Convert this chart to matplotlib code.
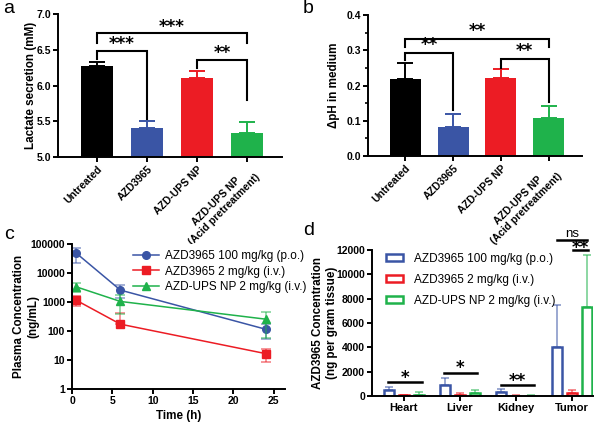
import matplotlib
matplotlib.use("Agg")
import matplotlib.pyplot as plt
import numpy as np
from matplotlib.patches import Patch
from matplotlib.ticker import FixedLocator, FixedFormatter, MultipleLocator

plt.rcParams['font.family'] = ['Liberation Sans', 'DejaVu Sans']
plt.rcParams['axes.linewidth'] = 1.4
plt.rcParams['xtick.major.width'] = 1.4
plt.rcParams['ytick.major.width'] = 1.4
plt.rcParams['ytick.minor.width'] = 1.2

# ---------------- data ----------------
groups_ab = ['Untreated', 'AZD3965', 'AZD-UPS NP', 'AZD-UPS NP\n(Acid pretreatment)']
lactate = [6.27, 5.40, 6.10, 5.33]
lactate_err = [0.06, 0.10, 0.10, 0.16]
dph = [0.218, 0.083, 0.222, 0.107]
dph_err = [0.047, 0.035, 0.024, 0.035]
bar_colors = ['#000000', '#3a55a5', '#ec1c24', '#1fb24b']

time_h = [0.5, 6, 24]
pk_series = ['AZD3965 100 mg/kg (p.o.)', 'AZD3965 2 mg/kg (i.v.)', 'AZD-UPS NP 2 mg/kg (i.v.)']
pk_po = [49000, 2570, 115]
pk_po_err = [26000, 1200, 60]
pk_iv = [1160, 172, 16.6]
pk_iv_err = [450, 230, 8]
pk_np = [3350, 1045, 256]
pk_np_err = [1100, 650, 200]

tissues = ['Heart', 'Liver', 'Kidney', 'Tumor']
tis_po = [470, 900, 330, 4000]
tis_po_err = [300, 600, 220, 3500]
tis_iv = [60, 120, 40, 250]
tis_iv_err = [40, 100, 30, 250]
tis_np = [120, 280, 40, 7300]
tis_np_err = [200, 220, 25, 4330]

W, H = 600, 430
fig = plt.figure(figsize=(6, 4.3), dpi=100)
TICK_FS = 7.5
LAB_FS = 8.4
STAR = dict(fontsize=12, fontweight='bold', family='DejaVu Sans')

def ax_px(l, t, r, b):
    return fig.add_axes([l / W, 1 - b / H, (r - l) / W, (b - t) / H])

def style(ax):
    for s in ['top', 'right']:
        ax.spines[s].set_visible(False)
    ax.tick_params(direction='out', length=3.5, labelsize=TICK_FS, pad=1.5)
    for lab in ax.get_xticklabels() + ax.get_yticklabels():
        lab.set_fontweight('bold')

def set_ylabel_px(ax, text, right_px, left_px, width_px):
    ax.set_ylabel(text, fontsize=LAB_FS, fontweight='bold')
    ax.yaxis.set_label_coords((right_px - left_px) / width_px, 0.5)

def bracket(ax, x1, x2, y, yl, yr, text, ty):
    ax.plot([x1, x1, x2, x2], [yl, y, y, yr], color='black', lw=1.5, clip_on=False,
            solid_joinstyle='miter')
    ax.text((x1 + x2) / 2, ty, text, ha='center', va='center', clip_on=False, **STAR)

def bar_panel(ax, vals, errs, ylim, yticks):
    x = np.arange(len(vals))
    bot = ylim[0]
    ax.bar(x, np.array(vals) - bot, bottom=bot, width=0.65, color=bar_colors, zorder=2)
    for xi, v, e, c in zip(x, vals, errs, bar_colors):
        ax.errorbar(xi, v, yerr=[[0], [e]], color=c, capsize=6, capthick=1.4,
                    elinewidth=1.4, zorder=1)
    ax.set_xlim(-0.78, 3.7)
    ax.set_ylim(*ylim)
    ax.set_yticks(yticks)
    ax.set_xticks(x)
    ax.set_xticklabels(groups_ab, rotation=45, ha='right', rotation_mode='anchor',
                       fontsize=TICK_FS, fontweight='bold', multialignment='center')
    style(ax)

# ---------------- panel a ----------------
axa = ax_px(58, 14, 282, 157)
bar_panel(axa, lactate, lactate_err, (5.0, 7.0), [5.0, 5.5, 6.0, 6.5, 7.0])
axa.set_yticklabels(['5.0', '5.5', '6.0', '6.5', '7.0'], fontweight='bold')
set_ylabel_px(axa, 'Lactate secretion (mM)', 37, 58, 224)
bracket(axa, 0, 3, 6.73, 6.59, 6.59, '***', 6.82)
bracket(axa, 0, 1, 6.48, 6.37, 5.53, '***', 6.575)
bracket(axa, 2, 3, 6.36, 6.24, 5.80, '**', 6.455)

# ---------------- panel b ----------------
axb = ax_px(368, 15, 582, 156)
bar_panel(axb, dph, dph_err, (0.0, 0.4), [0.0, 0.1, 0.2, 0.3, 0.4])
axb.set_yticklabels(['0.0', '0.1', '0.2', '0.3', '0.4'], fontweight='bold')
set_ylabel_px(axb, '\u0394pH in medium', 340, 368, 214)
axb.yaxis.set_minor_locator(MultipleLocator(0.05))
axb.tick_params(axis='y', which='minor', length=2.5)
bracket(axb, 0, 3, 0.332, 0.31, 0.31, '**', 0.355)
bracket(axb, 0, 1, 0.291, 0.272, 0.13, '**', 0.315)
bracket(axb, 2, 3, 0.275, 0.249, 0.154, '**', 0.297)

# ---------------- panel c ----------------
axc = ax_px(72, 244, 285, 389)
pk = [(pk_po, pk_po_err, '#3a55a5', 'o'), (pk_iv, pk_iv_err, '#ec1c24', 's'),
      (pk_np, pk_np_err, '#1fb24b', '^')]
for (vals, errs, c, m), name in zip(pk, pk_series):
    vals = np.array(vals, float)
    errs = np.array(errs, float)
    lower = np.where(errs < vals, errs, 0.0)
    axc.errorbar(time_h, vals, yerr=[lower, errs], fmt='none', ecolor=c, alpha=0.5,
                 capsize=3.5, elinewidth=1.3, capthick=1.3)
    axc.plot(time_h, vals, color=c, marker=m, markersize=5.5, lw=1.1, label=name)
axc.set_yscale('log')
axc.set_ylim(1, 100000)
axc.yaxis.set_major_locator(FixedLocator([1, 10, 100, 1000, 10000, 100000]))
axc.yaxis.set_major_formatter(FixedFormatter(['1', '10', '100', '1000', '10000', '100000']))
axc.yaxis.set_minor_locator(FixedLocator([]))
axc.set_xlim(0, 26.4)
axc.set_xticks([0, 5, 10, 15, 20, 25])
axc.set_xlabel('Time (h)', fontsize=LAB_FS, fontweight='bold', labelpad=3)
style(axc)
set_ylabel_px(axc, 'Plasma Concentration\n(ng/mL)', 39, 72, 213)
axc.legend(loc='upper left', bbox_to_anchor=(128 / W, 1 - 245 / H),
           bbox_transform=fig.transFigure, frameon=False, fontsize=8.5,
           handlelength=2.2, handletextpad=0.5, labelspacing=0.32, borderaxespad=0)

# ---------------- panel d ----------------
axd = ax_px(372, 250, 593, 396)
xg = np.arange(len(tissues))
off = 0.27
bw = 0.17
for vals, errs, c, dx, name in [(tis_po, tis_po_err, '#3a55a5', -off, pk_series[0]),
                                (tis_iv, tis_iv_err, '#ec1c24', 0, pk_series[1]),
                                (tis_np, tis_np_err, '#1fb24b', off, pk_series[2])]:
    axd.bar(xg + dx, vals, width=bw, facecolor='white', edgecolor=c, linewidth=1.8,
            zorder=2)
    axd.errorbar(xg + dx, vals, yerr=[np.zeros(len(vals)), errs], fmt='none',
                 ecolor=c, alpha=0.55, capsize=3, elinewidth=1.3, capthick=1.3, zorder=1)
axd.set_xlim(-0.57, 3.375)
axd.set_ylim(0, 12000)
axd.set_yticks(range(0, 12001, 2000))
axd.set_xticks(xg)
axd.set_xticklabels(tissues)
style(axd)
axd.tick_params(axis='x', labelsize=8)
for t in axd.get_xticklabels():
    t.set_fontweight('bold')
set_ylabel_px(axd, 'AZD3965 Concentration\n(ng per gram tissue)', 338, 372, 221)

def sigline(ax, x1, x2, y, text, ty):
    ax.plot([x1, x2], [y, y], color='black', lw=1.8, clip_on=False)
    ax.text((x1 + x2) / 2, ty, text, ha='center', va='center', clip_on=False, **STAR)

sigline(axd, 0 - 0.28, 0 + 0.33, 1120, '*', 1450)
sigline(axd, 1 - 0.29, 1 + 0.30, 1860, '*', 2300)
sigline(axd, 2 - 0.27, 2 + 0.33, 900, '**', 1250)
axd.plot([3 - 0.27, 3 + 0.27], [12820, 12820], color='black', lw=1.8, clip_on=False)
axd.text(3, 12850, 'ns', ha='center', va='bottom', fontsize=9.5, clip_on=False)
sigline(axd, 3 + 0.02, 3 + 0.28, 12000, '**', 12200)

handles = [Patch(facecolor='white', edgecolor=c, linewidth=1.8)
           for c in ['#3a55a5', '#ec1c24', '#1fb24b']]
axd.legend(handles, pk_series, loc='upper left', bbox_to_anchor=(381 / W, 1 - 248 / H),
           bbox_transform=fig.transFigure, frameon=False, fontsize=8.5,
           handlelength=1.5, handleheight=0.6, handletextpad=0.9, labelspacing=0.76,
           borderaxespad=0)

# panel letters
for txt, x, y in [('a', 3, 13), ('b', 303, 13), ('c', 4, 239), ('d', 303, 235)]:
    fig.text(x / W, 1 - y / H, txt, fontsize=14, va='baseline', ha='left')

fig.savefig('out.png', dpi=100)
